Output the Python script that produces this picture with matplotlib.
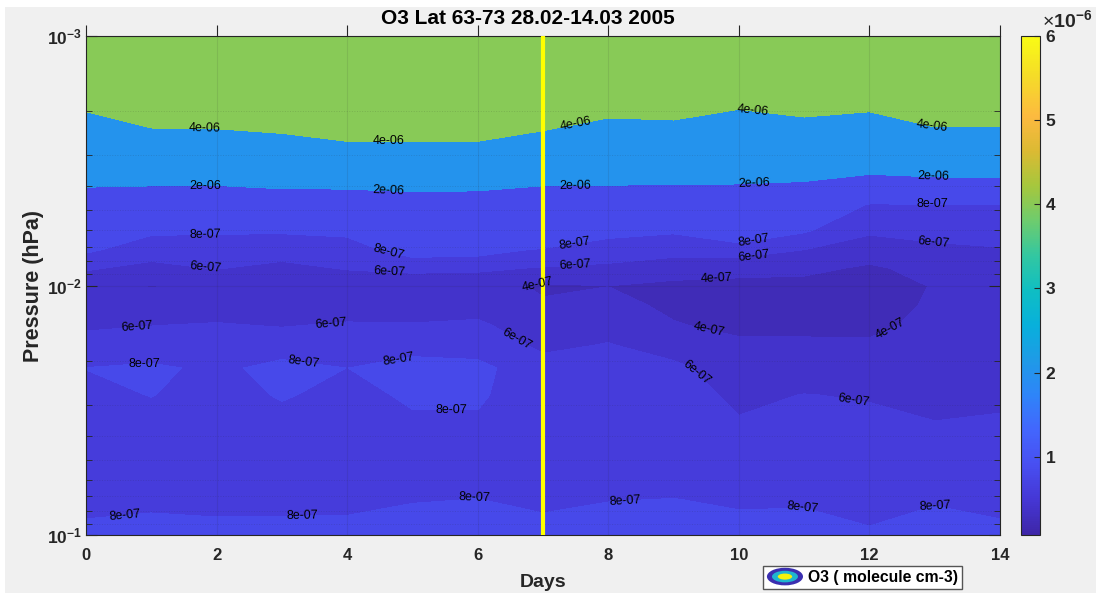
import numpy as np
import matplotlib
matplotlib.use('Agg')
import matplotlib.pyplot as plt
import matplotlib.cm as cm
from matplotlib.colors import LinearSegmentedColormap, Normalize
from matplotlib.patches import Ellipse, Rectangle, Patch
from matplotlib.legend_handler import HandlerBase

plt.rcParams['font.family'] = ['Liberation Sans', 'DejaVu Sans']
plt.rcParams['mathtext.fontset'] = 'custom'
plt.rcParams['mathtext.rm'] = 'Liberation Sans'
plt.rcParams['mathtext.bf'] = 'Liberation Sans:bold'

# Data: O3 (molecule cm-3), values in units of 1e-7, rows = pressure levels, cols = days
days = np.arange(0, 15)
pressure = [1.0e-3, 1.645e-3, 2.862e-3, 3.444e-3, 4.757e-3, 5.992e-3, 7.206e-3, 8.51e-3,
            1.005e-2, 1.197e-2, 1.44e-2, 1.732e-2, 2.142e-2, 2.748e-2, 3.46e-2, 5.005e-2,
            7.24e-2, 1.0e-1]
o3 = [
    [58, 58, 58, 58, 58, 58, 58, 58, 58, 58, 58, 58, 58, 58, 58],
    [44.9, 52.0, 52.4, 54.8, 50.0, 50.0, 50.0, 53.1, 47.1, 48.0, 44.3, 47.1, 45.4, 52.2, 52.2],
    [28.6, 30.9, 31.1, 32.6, 37.8, 37.8, 37.8, 31.9, 29.3, 29.5, 28.1, 28.6, 27.5, 30.0, 30.0],
    [23.2, 23.9, 23.9, 25.2, 25.5, 25.0, 25.0, 23.5, 23.3, 23.4, 22.7, 22.5, 21.5, 22.6, 22.9],
    [16.1, 14.5, 14.2, 14.75, 14.6, 16.5, 16.0, 15.0, 14.9, 14.5, 15.2, 14.0, 7.5, 7.6, 7.5],
    [11.8, 8.4, 8.24, 8.25, 8.5, 12.0, 12.0, 11.2, 8.8, 8.3, 10.3, 8.3, 6.25, 6.6, 6.8],
    [8.34, 6.83, 7.03, 6.8, 7.0, 9.0, 8.8, 7.7, 6.8, 6.6, 6.6, 5.98, 5.2, 5.6, 5.85],
    [6.22, 5.48, 6.10, 5.49, 6.15, 6.43, 6.3, 5.9, 5.69, 5.06, 5.1, 4.6, 3.66, 4.8, 5.0],
    [4.64, 3.9, 4.56, 3.97, 4.6, 4.85, 4.9, 3.7, 3.98, 3.47, 3.0, 3.2, 3.2, 4.1, 4.4],
    [4.91, 5.0, 5.07, 4.89, 5.0, 4.8, 5.3, 4.25, 4.6, 3.6, 3.2, 3.3, 3.1, 4.3, 4.3],
    [5.72, 5.95, 6.14, 5.86, 6.2, 6.15, 6.3, 4.9, 5.4, 4.13, 3.5, 3.6, 3.5, 4.6, 4.5],
    [6.72, 7.0, 6.84, 7.23, 7.0, 7.45, 7.23, 5.6, 6.1, 5.2, 4.4, 4.3, 4.3, 4.9, 4.8],
    [8.03, 8.3, 7.65, 8.5, 7.99, 8.6, 8.5, 6.78, 6.9, 6.43, 4.9, 5.0, 4.9, 5.2, 5.1],
    [7.5, 8.05, 7.3, 8.15, 7.5, 8.25, 8.2, 7.1, 7.2, 6.9, 5.6, 6.05, 5.85, 5.6, 5.65],
    [7.2, 7.4, 7.1, 7.5, 7.2, 7.8, 7.85, 7.2, 7.3, 7.2, 6.1, 6.6, 6.4, 5.98, 6.15],
    [7.3, 7.2, 7.2, 7.3, 7.3, 7.6, 7.8, 7.4, 7.6, 7.6, 7.2, 7.3, 7.0, 6.9, 6.9],
    [7.6, 7.75, 7.6, 7.7, 7.8, 7.95, 8.02, 7.8, 7.98, 8.02, 7.9, 7.9, 7.5, 7.95, 7.6],
    [8.4, 8.5, 8.5, 8.4, 8.3, 8.55, 8.6, 8.4, 8.4, 8.5, 8.3, 8.4, 8.2, 8.3, 8.4],
]
line_levels = [4e-7, 6e-7, 8e-7, 2e-6, 4e-6]
fill_levels = [0, 4e-7, 6e-7, 8e-7, 2e-6, 4e-6, 1e-5]
color_levels = [2.2e-7, 4e-7, 6e-7, 8e-7, 2e-6, 4e-6]
cbar_ticks = [1e-6, 2e-6, 3e-6, 4e-6, 5e-6, 6e-6]
cbar_labels = ['1', '2', '3', '4', '5', '6']
xticks = [0, 2, 4, 6, 8, 10, 12, 14]
label_pos = [
    (1.82, 2.25e-3), (4.64, 2.56e-3), (7.49, 2.17e-3), (10.22, 1.94e-3), (12.97, 2.23e-3),
    (1.82, 3.81e-3), (4.64, 4.03e-3), (7.49, 3.88e-3), (10.23, 3.81e-3), (12.97, 3.74e-3),
    (12.97, 4.58e-3), (1.82, 6.11e-3), (4.64, 7.21e-3), (7.49, 6.76e-3), (10.23, 6.51e-3),
    (12.97, 6.88e-3), (1.82, 8.67e-3), (4.64, 8.91e-3), (7.49, 8.35e-3), (10.23, 7.76e-3),
    (6.92, 1.023e-2), (9.66, 9.16e-3), (9.54, 1.51e-2), (12.28, 1.40e-2),
    (0.78, 1.535e-2), (3.75, 1.426e-2), (6.57, 1.68e-2), (9.31, 2.31e-2), (11.76, 2.82e-2),
    (0.9, 2.06e-2), (3.34, 2.03e-2), (4.79, 1.99e-2), (5.59, 3.27e-2),
    (0.6, 8.32e-2), (3.32, 8.39e-2), (5.94, 6.98e-2), (8.26, 7.38e-2), (10.97, 7.72e-2), (12.99, 7.45e-2),
]

Z = np.array(o3) * 1e-7

# parula-like colormap
parula = LinearSegmentedColormap.from_list('parula', [
    (0.00, (0.243, 0.150, 0.660)), (0.07, (0.270, 0.215, 0.835)),
    (0.14, (0.282, 0.310, 0.945)), (0.21, (0.262, 0.400, 0.992)),
    (0.28, (0.180, 0.520, 0.975)), (0.35, (0.120, 0.605, 0.905)),
    (0.42, (0.030, 0.690, 0.860)), (0.49, (0.060, 0.745, 0.765)),
    (0.56, (0.200, 0.780, 0.630)), (0.63, (0.430, 0.800, 0.430)),
    (0.70, (0.650, 0.780, 0.240)), (0.77, (0.860, 0.730, 0.200)),
    (0.84, (0.990, 0.730, 0.250)), (0.92, (0.960, 0.860, 0.160)),
    (1.00, (0.977, 0.984, 0.081))])
norm = Normalize(0.07e-6, 6e-6)
fill_colors = [parula(norm(v)) for v in color_levels]

W, H = 1096, 595
fig = plt.figure(figsize=(W / 100, H / 100), dpi=100, facecolor='white')
fig.add_artist(Rectangle((5 / W, 2 / H), 1 - 5 / W, 586 / H, transform=fig.transFigure,
                         facecolor='#f0f0f0', edgecolor='none', zorder=-10))

ax = fig.add_axes([86 / W, 60 / H, 914 / W, 499 / H])
ax.contourf(days, pressure, Z, levels=fill_levels, colors=fill_colors)
ax.set_yscale('log')
ax.set_xlim(0, 14)
ax.set_ylim(1e-1, 1e-3)

cs = ax.contour(days, pressure, Z, levels=line_levels, colors='none')
ax.clabel(cs, manual=label_pos, inline=False, fmt=lambda v: f'{v:.0e}', fontsize=9, colors='k')

ax.axvline(7, color='#ffff00', lw=3.0, zorder=3)

dark = '#262626'
ax.grid(True, which='major', color=dark, alpha=0.1, lw=0.8)
ax.grid(True, which='minor', axis='y', color=dark, alpha=0.15, lw=0.7, linestyle=':')
ax.set_xticks(xticks)
ax.set_xticklabels([str(t) for t in xticks], fontsize=12, fontweight='bold', color=dark)
ax.set_yticks([1e-3, 1e-2, 1e-1])
ax.set_yticklabels([r'$\mathbf{10^{-3}}$', r'$\mathbf{10^{-2}}$', r'$\mathbf{10^{-1}}$'], fontsize=12.5, color=dark)
ax.tick_params(axis='x', which='both', bottom=False, top=True, direction='out', length=8, pad=1, color=dark)
ax.tick_params(axis='y', which='both', left=True, right=True, direction='in', color=dark, pad=3)
ax.tick_params(axis='y', which='major', length=8)
ax.tick_params(axis='y', which='minor', length=4)
for s in ax.spines.values():
    s.set_color(dark)
    s.set_linewidth(0.8)

ax.set_xlabel('Days', fontsize=14, fontweight='bold', labelpad=8, color=dark)
ax.set_ylabel('Pressure (hPa)', fontsize=15.5, fontweight='bold', labelpad=2, color=dark)
fig.text(528 / W, 1 - 19 / H, 'O3 Lat 63-73 28.02-14.03 2005', ha='center', va='center',
         fontsize=15, fontweight='bold', color='black')

# colorbar
cax = fig.add_axes([1021 / W, 60 / H, 19 / W, 499 / H])
sm = cm.ScalarMappable(norm=norm, cmap=parula)
cb = fig.colorbar(sm, cax=cax, ticks=cbar_ticks)
cb.ax.set_yticklabels(cbar_labels, fontsize=12.5, fontweight='bold', color=dark)
cb.ax.tick_params(direction='in', length=4, color=dark, pad=4)
cb.outline.set_edgecolor(dark)
cb.outline.set_linewidth(0.8)
fig.text(1042 / W, 1 - 20 / H, r'$\times\mathbf{10^{-6}}$', ha='left', va='center', fontsize=14, color=dark)


# legend with ring icon
class HandlerRings(HandlerBase):
    def create_artists(self, legend, orig_handle, xdescent, ydescent, width, height, fontsize, trans):
        cx = width / 2 - xdescent
        cy = height / 2 - ydescent
        arts = []
        for fw, fh, c in [(1.0, 1.6, '#3b2fb0'), (0.72, 1.05, '#1fb5cf'), (0.4, 0.55, '#f5f20a')]:
            arts.append(Ellipse((cx, cy), width * fw, height * fh, facecolor=c,
                                edgecolor='none', transform=trans))
        return arts


proxy = Patch()
fig.legend(handles=[proxy], labels=['O3 ( molecule cm-3)'], handler_map={proxy: HandlerRings()},
           loc='lower left', bbox_to_anchor=(763 / W, 6 / H), frameon=True, fancybox=False,
           edgecolor='#555555', framealpha=1, handlelength=2.3, handletextpad=0.3,
           borderpad=0.25, borderaxespad=0, prop={'size': 11.3, 'weight': 'bold'})

fig.savefig('out.png', dpi=100, facecolor=fig.get_facecolor())
